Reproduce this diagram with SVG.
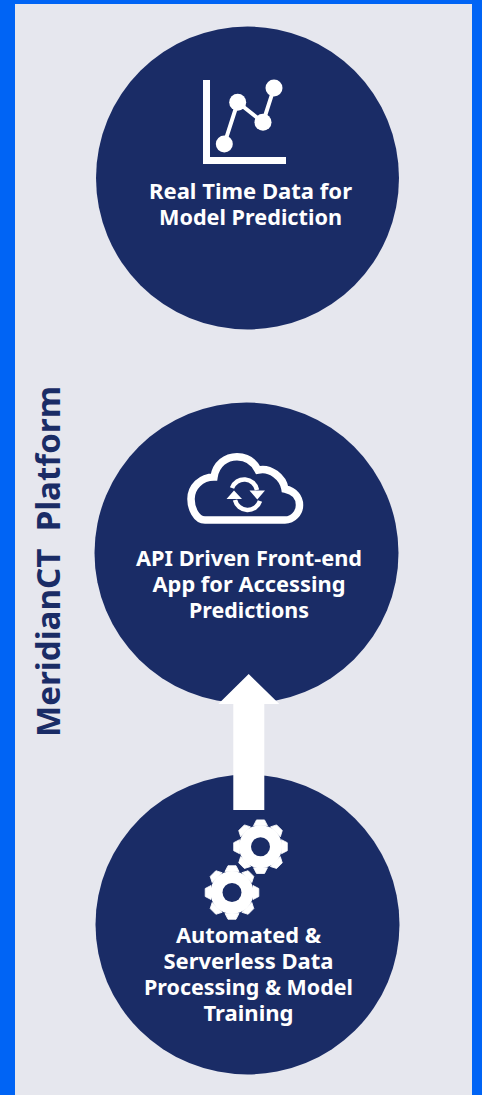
<svg xmlns="http://www.w3.org/2000/svg" width="482" height="1095" viewBox="0 0 482 1095">
<style>
.disc{fill:#1a2c66}
.lbl{font-family:"Noto Sans","Open Sans","Liberation Sans",sans-serif;font-weight:700;font-size:20.500px;fill:#fff;text-anchor:middle}
.title{font-family:"Noto Sans","Open Sans","Liberation Sans",sans-serif;font-weight:700;font-size:32px;fill:#1a2c66;text-anchor:middle;white-space:pre}
.ic{fill:none;stroke:#fff}
</style>
<defs>
<path id="tooth" d="M-7,-21 L-4,-26.800 L4,-26.800 L7,-21 Z" fill="#fff" stroke="#fff" stroke-width="0.8" stroke-linejoin="round"/>
<g id="gear">
<circle r="21.500" fill="#fff"/>
<use href="#tooth"/>
<use href="#tooth" transform="rotate(45)"/>
<use href="#tooth" transform="rotate(90)"/>
<use href="#tooth" transform="rotate(135)"/>
<use href="#tooth" transform="rotate(180)"/>
<use href="#tooth" transform="rotate(225)"/>
<use href="#tooth" transform="rotate(270)"/>
<use href="#tooth" transform="rotate(315)"/>
<circle r="9.500" fill="#1a2c66"/>
</g>
</defs>
<rect width="482" height="1095" fill="#0064f5"/>
<rect x="15" y="4" width="457" height="1091" fill="#e6e7ee"/>
<text id="platform-title" class="title" transform="translate(60,561.500) rotate(-90)" textLength="351" lengthAdjust="spacingAndGlyphs">MeridianCT  Platform</text>
<g id="node-realtime">
<circle class="disc" cx="247.500" cy="178" r="151.500"/>
<path d="M203,80H210V157H286V164H203Z" fill="#fff"/>
<path class="ic" stroke-width="4" d="M224.300,144L237.700,102.300L263,122.300L274,88"/>
<g fill="#fff"><circle cx="224.300" cy="144" r="8.500"/><circle cx="237.700" cy="102.300" r="8.500"/><circle cx="263" cy="122.300" r="8.500"/><circle cx="274" cy="88" r="8.500"/></g>
<text class="lbl" x="250.500" y="199" textLength="203" lengthAdjust="spacingAndGlyphs">Real Time Data for</text>
<text class="lbl" x="250.500" y="225" textLength="183" lengthAdjust="spacingAndGlyphs">Model Prediction</text>
</g>
<g id="node-api">
<ellipse class="disc" cx="246.500" cy="553" rx="152" ry="150.500"/>
<path class="ic" stroke-width="7.500" d="M205,520C196,520 191,508 191,499C191,487 201,477 214,477C216,464 226,456.700 237,456.700C247,456.700 254,462 258,470C270,467 283,477 285,489C295,491 299.500,498 299.500,505C299.500,513 293,520 285,520Z"/>
<path class="ic" stroke-width="4.500" d="M232,488A13,13 0 0 1 257,490"/>
<path class="ic" stroke-width="4.500" d="M260,501A13,13 0 0 1 235,500"/>
<path d="M249.500,490.500H265L257.300,499.500ZM226.500,499H242L234,490.500Z" fill="#fff"/>
<text class="lbl" x="249" y="566" textLength="226" lengthAdjust="spacingAndGlyphs">API Driven Front-end</text>
<text class="lbl" x="249" y="591.500" textLength="193" lengthAdjust="spacingAndGlyphs">App for Accessing</text>
<text class="lbl" x="249" y="617.500" textLength="120" lengthAdjust="spacingAndGlyphs">Predictions</text>
</g>
<g id="node-training">
<ellipse class="disc" cx="247.500" cy="924.500" rx="152" ry="150"/>
<use href="#gear" transform="translate(260.500,846.700)"/>
<use href="#gear" transform="translate(232,892.500)"/>
<text class="lbl" x="248.500" y="943" textLength="145" lengthAdjust="spacingAndGlyphs">Automated &amp;</text>
<text class="lbl" x="248.500" y="969" textLength="170" lengthAdjust="spacingAndGlyphs">Serverless Data</text>
<text class="lbl" x="248.500" y="994.500" textLength="209" lengthAdjust="spacingAndGlyphs">Processing &amp; Model</text>
<text class="lbl" x="248.500" y="1020.500" textLength="90" lengthAdjust="spacingAndGlyphs">Training</text>
</g>
<g id="connectors">
<path d="M248.700,674L279.300,704H264.300V810H233.300V704H218.300Z" fill="#fff"/>
</g>
</svg>
